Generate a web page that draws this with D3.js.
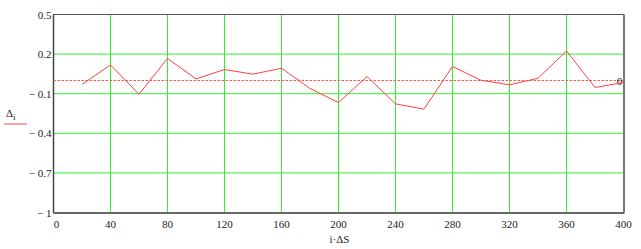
<!DOCTYPE html>
<html>
<head>
<meta charset="utf-8">
<script src="https://cdn.jsdelivr.net/npm/d3@7"></script>
<style>
  html, body { margin: 0; padding: 0; background: #fff; }
  svg text { font-family: "Liberation Serif", "Times New Roman", serif; font-size: 11px; fill: #222; }
</style>
</head>
<body>
<div id="chart"></div>
<script>
// values
const xValues = [20, 40, 60, 80, 100, 120, 140, 160, 180, 200, 220, 240, 260, 280, 300, 320, 340, 360, 380, 400];
const deltaValues = [-0.03, 0.118, -0.104, 0.167, 0.012, 0.083, 0.048, 0.093, -0.06, -0.167,
                     0.03, -0.177, -0.217, 0.106, 0.002, -0.033, 0.017, 0.224, -0.053, -0.015];
const xTicks = [0, 40, 80, 120, 160, 200, 240, 280, 320, 360, 400];
const yTicks = [0.5, 0.2, -0.1, -0.4, -0.7, -1];
const refLine = 0;

const width = 641, height = 249;
const margin = { left: 53.5, right: 17.5, top: 14.5, bottom: 36.5 };

const svg = d3.select("#chart").append("svg")
    .attr("width", width)
    .attr("height", height);

const x = d3.scaleLinear().domain([0, 400]).range([margin.left, width - margin.right]);
const y = d3.scaleLinear().domain([-1, 0.5]).range([height - margin.bottom, margin.top]);

// grid
svg.append("g").selectAll("line")
    .data(xTicks.slice(1, -1))
    .join("line")
    .attr("x1", d => x(d)).attr("x2", d => x(d))
    .attr("y1", y(0.5)).attr("y2", y(-1))
    .attr("stroke", "#33ee33").attr("stroke-width", 1);

svg.append("g").selectAll("line")
    .data(yTicks.slice(1, -1))
    .join("line")
    .attr("x1", x(0)).attr("x2", x(400))
    .attr("y1", d => y(d)).attr("y2", d => y(d))
    .attr("stroke", "#33ee33").attr("stroke-width", 1);

// frame
svg.append("rect")
    .attr("x", x(0)).attr("y", y(0.5))
    .attr("width", x(400) - x(0)).attr("height", y(-1) - y(0.5))
    .attr("fill", "none").attr("stroke", "#555").attr("stroke-width", 1);
svg.append("line")
    .attr("x1", x(0)).attr("x2", x(0)).attr("y1", y(0.5)).attr("y2", y(-1))
    .attr("stroke", "#444").attr("stroke-width", 1.5);
svg.append("line")
    .attr("x1", x(0)).attr("x2", x(400) + 1).attr("y1", y(-1) + 0.5).attr("y2", y(-1) + 0.5)
    .attr("stroke", "#666").attr("stroke-width", 2);
svg.append("line")
    .attr("x1", x(400) + 0.5).attr("x2", x(400) + 0.5).attr("y1", y(0.5)).attr("y2", y(-1))
    .attr("stroke", "#777").attr("stroke-width", 2);

// reference line
svg.append("line")
    .attr("x1", x(0)).attr("x2", x(400))
    .attr("y1", y(refLine)).attr("y2", y(refLine))
    .attr("stroke", "#ff5555").attr("stroke-width", 1)
    .attr("stroke-dasharray", "2.5,1.5");
svg.append("text")
    .attr("x", x(400) - 4).attr("y", y(refLine) + 4)
    .attr("text-anchor", "middle")
    .text("0");

// data line
const line = d3.line().x((d, i) => x(xValues[i])).y(d => y(d));
svg.append("path")
    .datum(deltaValues)
    .attr("d", line)
    .attr("fill", "none")
    .attr("stroke", "#ff4040")
    .attr("stroke-width", 1);

// tick labels
const fmtY = d => (d < 0 ? "\u2212 " + d3.format("")(-d) : String(d));
svg.append("g").selectAll("text")
    .data(yTicks)
    .join("text")
    .attr("x", x(0) - 2).attr("y", d => y(d) + 4)
    .attr("text-anchor", "end")
    .text(fmtY);

svg.append("g").selectAll("text")
    .data(xTicks)
    .join("text")
    .attr("x", d => x(d) + (d === 0 ? 3 : 0)).attr("y", y(-1) + 15)
    .attr("text-anchor", "middle")
    .text(d => d);

// axis titles
svg.append("text")
    .attr("x", (x(0) + x(400)) / 2 + 1).attr("y", height - 6)
    .attr("text-anchor", "middle")
    .text("i\u00B7\u0394S");

const leg = svg.append("text").attr("x", 6).attr("y", 117);
leg.append("tspan").text("\u0394");
leg.append("tspan").attr("dy", 3).attr("font-size", "9px").text("i");
svg.append("line")
    .attr("x1", 4).attr("x2", 27).attr("y1", 124).attr("y2", 124)
    .attr("stroke", "#ff4040").attr("stroke-width", 1);
</script>
</body>
</html>
